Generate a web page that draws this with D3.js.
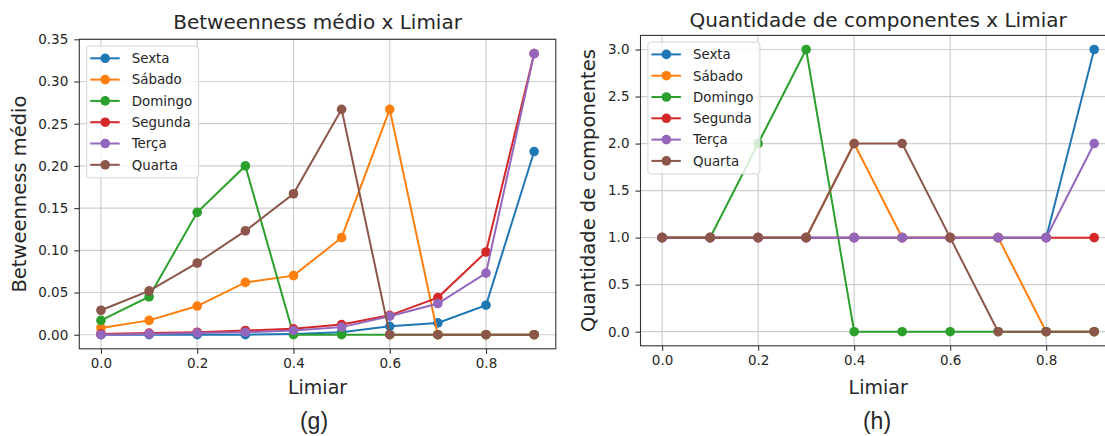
<!DOCTYPE html>
<html>
<head>
<meta charset="utf-8">
<script src="https://cdn.jsdelivr.net/npm/d3@7"></script>
<style>
  html, body { margin: 0; padding: 0; background: #fff; }
  svg { display: block; }
  text { font-family: "DejaVu Sans", sans-serif; fill: #262626; }
</style>
</head>
<body>
<svg id="chart" width="1105" height="436"></svg>
<script>
// ---------- DATA ----------
const limiar = [0.0, 0.1, 0.2, 0.3, 0.4, 0.5, 0.6, 0.7, 0.8, 0.9];
const seriesNames = ["Sexta", "Sábado", "Domingo", "Segunda", "Terça", "Quarta"];
const seriesColors = ["#1f77b4", "#ff7f0e", "#2ca02c", "#d62728", "#9467bd", "#8c564b"];

// Betweenness médio
const btSexta   = [0.000, 0.000, 0.000, 0.000, 0.001, 0.003, 0.010, 0.014, 0.035, 0.217];
const btSabado  = [0.008, 0.017, 0.034, 0.062, 0.070, 0.115, 0.267, 0.000, 0.000, 0.000];
const btDomingo = [0.017, 0.045, 0.145, 0.200, 0.000, 0.000, 0.000, 0.000, 0.000, 0.000];
const btSegunda = [0.001, 0.002, 0.003, 0.005, 0.007, 0.012, 0.023, 0.044, 0.098, 0.333];
const btTerca   = [0.000, 0.001, 0.002, 0.003, 0.005, 0.009, 0.022, 0.037, 0.073, 0.333];
const btQuarta  = [0.029, 0.052, 0.085, 0.123, 0.167, 0.267, 0.000, 0.000, 0.000, 0.000];

// Quantidade de componentes
const qcSexta   = [1, 1, 1, 1, 1, 1, 1, 1, 1, 3];
const qcSabado  = [1, 1, 1, 1, 2, 1, 1, 1, 0, 0];
const qcDomingo = [1, 1, 2, 3, 0, 0, 0, 0, 0, 0];
const qcSegunda = [1, 1, 1, 1, 1, 1, 1, 1, 1, 1];
const qcTerca   = [1, 1, 1, 1, 1, 1, 1, 1, 1, 2];
const qcQuarta  = [1, 1, 1, 1, 2, 2, 1, 0, 0, 0];

const xTicks = [0.0, 0.2, 0.4, 0.6, 0.8];
const btTicks = [0.00, 0.05, 0.10, 0.15, 0.20, 0.25, 0.30, 0.35];
const qcTicks = [0.0, 0.5, 1.0, 1.5, 2.0, 2.5, 3.0];

const svg = d3.select("#chart");

function drawPanel(cfg) {
  const { x0, x1, y0, y1, xDomain, yDomain, series, yTicks, yFmt, title, ylabel, ylabelX, titleY, caption, captionX } = cfg;
  const x = d3.scaleLinear().domain(xDomain).range([x0, x1]);
  const y = d3.scaleLinear().domain(yDomain).range([y1, y0]);
  const g = svg.append("g");

  // grid
  g.append("g").selectAll("line").data(xTicks).join("line")
    .attr("x1", d => x(d)).attr("x2", d => x(d)).attr("y1", y0).attr("y2", y1)
    .attr("stroke", "#cfcfcf").attr("stroke-width", 1.2);
  g.append("g").selectAll("line").data(yTicks).join("line")
    .attr("x1", x0).attr("x2", x1).attr("y1", d => y(d)).attr("y2", d => y(d))
    .attr("stroke", "#cfcfcf").attr("stroke-width", 1.2);

  // axes
  const ax = g.append("g").attr("transform", `translate(0,${y1})`)
    .call(d3.axisBottom(x).tickValues(xTicks).tickFormat(d3.format(".1f")).tickSize(5).tickSizeOuter(0).tickPadding(5));
  const ay = g.append("g").attr("transform", `translate(${x0},0)`)
    .call(d3.axisLeft(y).tickValues(yTicks).tickFormat(d3.format(yFmt)).tickSize(5).tickSizeOuter(0).tickPadding(6));
  [ax, ay].forEach(a => {
    a.select(".domain").remove();
    a.selectAll(".tick line").attr("stroke", "#333").attr("stroke-width", 1.1);
    a.selectAll(".tick text").style("font-family", "DejaVu Sans").style("font-size", "13.5px").attr("fill", "#333");
  });

  // series
  const line = d3.line().x((d, i) => x(limiar[i])).y(d => y(d));
  series.forEach((vals, si) => {
    const sg = g.append("g");
    sg.append("path").datum(vals).attr("d", line)
      .attr("fill", "none").attr("stroke", seriesColors[si]).attr("stroke-width", 2);
    sg.selectAll("circle").data(vals).join("circle")
      .attr("cx", (d, i) => x(limiar[i])).attr("cy", d => y(d)).attr("r", 4.8)
      .attr("fill", seriesColors[si]);
  });

  // spines
  g.append("rect").attr("x", x0).attr("y", y0).attr("width", x1 - x0).attr("height", y1 - y0)
    .attr("fill", "none").attr("stroke", "#333").attr("stroke-width", 1.1);

  // legend
  const lx = x0 + 7.4, ly = y0 + 6.7, rowH = 21.3, lw = 112;
  const lg = g.append("g");
  lg.append("rect").attr("x", lx).attr("y", ly).attr("width", lw).attr("height", rowH * 6 + 4)
    .attr("rx", 3).attr("fill", "#fff").attr("fill-opacity", 0.8)
    .attr("stroke", "#d6d6d6").attr("stroke-width", 1);
  seriesNames.forEach((name, i) => {
    const cy = ly + 12.3 + i * rowH;
    lg.append("line").attr("x1", lx + 3.5).attr("x2", lx + 33).attr("y1", cy).attr("y2", cy)
      .attr("stroke", seriesColors[i]).attr("stroke-width", 2);
    lg.append("circle").attr("cx", lx + 18.5).attr("cy", cy).attr("r", 4.8).attr("fill", seriesColors[i]);
    lg.append("text").attr("x", lx + 45).attr("y", cy).attr("dy", "0.36em")
      .style("font-size", "13.4px").text(name);
  });

  // title & labels
  g.append("text").attr("x", (x0 + x1) / 2).attr("y", titleY).attr("text-anchor", "middle")
    .style("font-size", "20px").text(title);
  g.append("text").attr("x", (x0 + x1) / 2).attr("y", 394).attr("text-anchor", "middle")
    .style("font-size", "19px").text("Limiar");
  g.append("text").attr("transform", `translate(${ylabelX},${(y0 + y1) / 2}) rotate(-90)`)
    .attr("text-anchor", "middle").attr("dy", "0.35em")
    .style("font-size", "19.5px").text(ylabel);
  g.append("text").attr("x", captionX).attr("y", 429).attr("text-anchor", "middle")
    .style("font-family", "Liberation Sans, Arial, sans-serif").style("font-size", "23px")
    .attr("fill", "#000").text(caption);
}

drawPanel({
  x0: 79.3, x1: 555.8, y0: 39.3, y1: 348.8,
  xDomain: [-0.045, 0.945], yDomain: [-0.01667, 0.35],
  series: [btSexta, btSabado, btDomingo, btSegunda, btTerca, btQuarta],
  yTicks: btTicks, yFmt: ".2f",
  title: "Betweenness médio x Limiar", titleY: 28.5,
  ylabel: "Betweenness médio", ylabelX: 19,
  caption: "(g)", captionX: 314
});

drawPanel({
  x0: 640.5, x1: 1115.8, y0: 35.4, y1: 345.8,
  xDomain: [-0.045, 0.945], yDomain: [-0.15, 3.15],
  series: [qcSexta, qcSabado, qcDomingo, qcSegunda, qcTerca, qcQuarta],
  yTicks: qcTicks, yFmt: ".1f",
  title: "Quantidade de componentes x Limiar", titleY: 26.7,
  ylabel: "Quantidade de componentes", ylabelX: 588,
  caption: "(h)", captionX: 877
});
</script>
</body>
</html>
